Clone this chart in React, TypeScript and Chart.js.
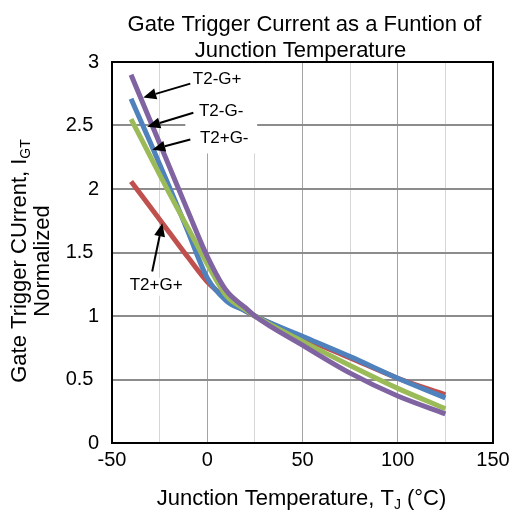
import React, { useEffect, useRef } from 'react';
import { Chart, registerables } from 'chart.js';

Chart.register(...registerables);

const FONT = "'Liberation Sans', Arial, sans-serif";

// Junction temperature samples (°C)
const temperatures = [-40, -30, -20, -10, 0, 10, 20, 25, 50, 75, 100, 125];

// Normalized gate trigger current per quadrant
const t2mGp = [2.9, 2.54, 2.18, 1.82, 1.47, 1.2, 1.065, 1.0, 0.77, 0.55, 0.37, 0.23];
const t2pGm = [2.55, 2.26, 1.97, 1.69, 1.41, 1.16, 1.05, 1.0, 0.8, 0.61, 0.43, 0.27];
const t2mGm = [2.71, 2.37, 2.02, 1.66, 1.3, 1.12, 1.04, 1.0, 0.84, 0.68, 0.51, 0.355];
const t2pGp = [2.06, 1.86, 1.66, 1.46, 1.27, 1.14, 1.04, 1.0, 0.83, 0.67, 0.51, 0.38];

const seriesNames = ['T2-G+', 'T2+G-', 'T2-G-', 'T2+G+'];
const seriesValues = [t2mGp, t2pGm, t2mGm, t2pGp];
const seriesColors = ['#8064A2', '#9BBB59', '#4F81BD', '#C0504D'];

const titleLines = ['Gate Trigger Current as a Funtion of', 'Junction Temperature'];

// Callout labels in data coordinates [°C, normalized]
const callouts = [
  { text: 'T2-G+', at: [5.2, 2.86], tail: [-8.9, 2.83], tip: [-33.6, 2.72] },
  { text: 'T2-G-', at: [7.3, 2.61], tail: [-7.3, 2.6], tip: [-31.5, 2.49] },
  { text: 'T2+G-', at: [8.9, 2.4], tail: [-8.9, 2.39], tip: [-28.9, 2.31] },
  { text: 'T2+G+', at: [-26.8, 1.24], tail: [-28.9, 1.35], tip: [-23.6, 1.73] },
];
// white backing boxes behind the callout texts: [xMin, xMax, yMin, yMax]
const calloutBoxes = [
  [-11.5, 26.2, 2.28, 3.0],
  [-41.5, -12, 1.16, 1.3],
];

function drawParts(ctx: CanvasRenderingContext2D, parts: [string, boolean][], cx: number, y: number, size: number, subSize: number) {
  let total = 0;
  const widths = parts.map(([t, sub]) => {
    ctx.font = `${sub ? subSize : size}px ${FONT}`;
    const w = ctx.measureText(t).width;
    total += w;
    return w;
  });
  let x = cx - total / 2;
  ctx.textAlign = 'left';
  ctx.textBaseline = 'alphabetic';
  parts.forEach(([t, sub], i) => {
    ctx.font = `${sub ? subSize : size}px ${FONT}`;
    ctx.fillText(t, x, sub ? y + 4 : y);
    x += widths[i];
  });
}

const boxesPlugin = {
  id: 'calloutBoxes',
  beforeDatasetsDraw(chart: any) {
    const { ctx, scales } = chart;
    ctx.save();
    ctx.fillStyle = '#ffffff';
    calloutBoxes.forEach(([x0, x1, y0, y1]) => {
      const px0 = scales.x.getPixelForValue(x0);
      const px1 = scales.x.getPixelForValue(x1);
      const py0 = scales.y.getPixelForValue(y1);
      const py1 = scales.y.getPixelForValue(y0);
      ctx.fillRect(px0, py0, px1 - px0, py1 - py0);
    });
    ctx.restore();
  },
};

const overlayPlugin = {
  id: 'overlay',
  afterDatasetsDraw(chart: any) {
    const { ctx, scales, chartArea: a } = chart;
    ctx.save();
    // frame
    ctx.strokeStyle = '#000';
    ctx.lineWidth = 2;
    ctx.strokeRect(a.left, a.top, a.right - a.left, a.bottom - a.top);
    // callouts
    callouts.forEach((c) => {
      const tx = scales.x.getPixelForValue(c.tail[0]);
      const ty = scales.y.getPixelForValue(c.tail[1]);
      const hx = scales.x.getPixelForValue(c.tip[0]);
      const hy = scales.y.getPixelForValue(c.tip[1]);
      const ang = Math.atan2(hy - ty, hx - tx);
      const hl = 13, hw = 5.5;
      const bx = hx - hl * Math.cos(ang);
      const by = hy - hl * Math.sin(ang);
      ctx.strokeStyle = '#000';
      ctx.lineWidth = 2;
      ctx.beginPath();
      ctx.moveTo(tx, ty);
      ctx.lineTo(bx, by);
      ctx.stroke();
      ctx.fillStyle = '#000';
      ctx.beginPath();
      ctx.moveTo(hx, hy);
      ctx.lineTo(bx + hw * Math.sin(ang), by - hw * Math.cos(ang));
      ctx.lineTo(bx - hw * Math.sin(ang), by + hw * Math.cos(ang));
      ctx.closePath();
      ctx.fill();
      ctx.font = `17px ${FONT}`;
      ctx.textAlign = 'center';
      ctx.textBaseline = 'middle';
      ctx.fillText(c.text, scales.x.getPixelForValue(c.at[0]), scales.y.getPixelForValue(c.at[1]));
    });
    ctx.restore();
  },
  afterDraw(chart: any) {
    const { ctx, chartArea: a } = chart;
    ctx.save();
    ctx.fillStyle = '#000';
    const cx = (a.left + a.right) / 2;
    ctx.font = `22px ${FONT}`;
    ctx.textAlign = 'center';
    ctx.textBaseline = 'alphabetic';
    ctx.fillText(titleLines[0], cx + 2, 31);
    ctx.fillText(titleLines[1], cx - 2, 57);
    drawParts(ctx, [['Junction Temperature, T', false], ['J', true], [' (°C)', false]], cx - 1, 505, 22, 14);
    ctx.translate(26, 261);
    ctx.rotate(-Math.PI / 2);
    drawParts(ctx, [['Gate Trigger CUrrent, I', false], ['GT', true]], 0, 0, 22, 14);
    ctx.font = `22px ${FONT}`;
    ctx.textAlign = 'center';
    ctx.fillText('Normalized', 0, 23);
    ctx.restore();
  },
};

export default function App() {
  const ref = useRef<HTMLCanvasElement | null>(null);
  useEffect(() => {
    document.body.style.margin = '0';
    const canvas = ref.current;
    if (!canvas) return;
    const chart = new Chart(canvas, {
      type: 'line',
      data: {
        datasets: seriesNames.map((name, i) => ({
          label: name,
          data: temperatures.map((t, j) => ({ x: t, y: seriesValues[i][j] })),
          borderColor: seriesColors[i],
          backgroundColor: seriesColors[i],
          borderWidth: 5,
          pointRadius: 0,
          cubicInterpolationMode: 'monotone' as const,
          fill: false,
        })),
      },
      options: {
        responsive: false,
        animation: false,
        layout: { padding: { top: 62, right: 23, left: 0, bottom: 0 } },
        plugins: { legend: { display: false }, title: { display: false }, tooltip: { enabled: false } },
        scales: {
          x: {
            type: 'linear',
            min: -50,
            max: 150,
            afterFit: (s: any) => { s.height = 68; },
            ticks: {
              stepSize: 25,
              autoSkip: false,
              maxRotation: 0,
              padding: 5,
              color: '#000',
              font: { family: FONT, size: 20 },
              callback: (v: any) => (Number(v) % 50 === 0 ? String(v) : ''),
            },
            grid: {
              drawTicks: false,
              lineWidth: 1,
              color: (c: any) => (c.tick && c.tick.value % 50 === 0 ? '#a3a3a3' : '#d6d6d6'),
            },
            border: { display: true, color: '#000', width: 2 },
          },
          y: {
            type: 'linear',
            min: 0,
            max: 3,
            afterFit: (s: any) => { s.width = 112; },
            ticks: {
              stepSize: 0.5,
              padding: 13,
              color: '#000',
              font: { family: FONT, size: 20 },
              callback: (v: any) => (Number.isInteger(Number(v)) ? String(v) : String(v) + ' '),
            },
            grid: { drawTicks: false, lineWidth: 2, color: '#8c8c8c' },
            border: { display: true, color: '#000', width: 2 },
          },
        },
      },
      plugins: [boxesPlugin, overlayPlugin],
    });
    return () => chart.destroy();
  }, []);
  return (
    <div style={{ width: 516, height: 511 }}>
      <canvas ref={ref} width={516} height={511} style={{ display: 'block' }} />
    </div>
  );
}
